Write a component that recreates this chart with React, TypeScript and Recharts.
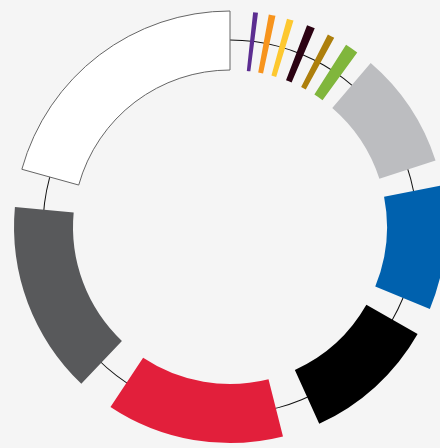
import { PieChart, Pie, Cell } from 'recharts'

// ring pieces counter-clockwise from the blue block (values are arc degrees)
const segmentNames = [
  'Blue', 'Light grey', 'Green', 'Gold', 'Maroon', 'Yellow', 'Orange', 'Purple',
  'White', 'Dark grey', 'Red', 'Black',
]
const segmentValues = [33.4, 31.45, 3.6, 1.9, 2.2, 1.8, 1.8, 1.3, 74.5, 51.8, 47.8, 35.9]
// empty arc after each piece
const gapValues = [6.8, 4.55, 3.65, 3.85, 3.8, 3.15, 2.9, 6.15, 10.2, 9.9, 10.2, 7.4]
const segmentColors = [
  '#0061ae', '#bcbdc0', '#80b63c', '#ad7f0c', '#2b0212', '#fdc82f', '#f7941d', '#5c2d91',
  '#ffffff', '#58595b', '#e21f3b', '#000000',
]
// thin guide circle, split in thirds so each arc is well defined
const ringData = [{ name: 'a', value: 1 }, { name: 'b', value: 1 }, { name: 'c', value: 1 }]

const START = -22.3

const pieData = segmentNames.flatMap((name, i) => [
  { name, value: segmentValues[i], color: segmentColors[i], gap: false },
  { name: `gap-${i}`, value: gapValues[i], color: 'none', gap: true },
])

export default function App() {
  return (
    <div style={{ width: 440, height: 448, background: '#f5f5f5', overflow: 'hidden' }}>
      <style>{'body{margin:0}'}</style>
      <PieChart width={440} height={448} margin={{ top: 0, right: 0, bottom: 0, left: 0 }}>
        <Pie
          data={ringData}
          dataKey="value"
          cx={230}
          cy={227}
          innerRadius={186.5}
          outerRadius={187.5}
          startAngle={0}
          endAngle={360}
          paddingAngle={0}
          fill="#111111"
          stroke="none"
          isAnimationActive={false}
        />
        <Pie
          data={pieData}
          dataKey="value"
          cx={230}
          cy={227}
          innerRadius={157}
          outerRadius={216}
          startAngle={START}
          endAngle={START + 360}
          stroke="none"
          isAnimationActive={false}
        >
          {pieData.map((d, idx) => (
            <Cell
              key={idx}
              fill={d.color}
              stroke={d.name === 'White' ? '#666666' : 'none'}
              strokeWidth={d.name === 'White' ? 1 : 0}
            />
          ))}
        </Pie>
      </PieChart>
    </div>
  )
}
